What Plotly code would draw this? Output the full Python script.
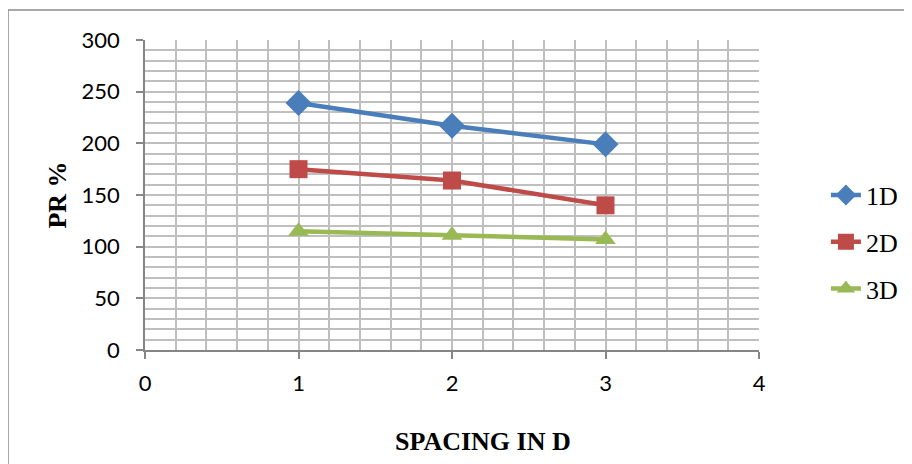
import plotly.graph_objects as go

x_vals = [1, 2, 3]
series_names = ["1D", "2D", "3D"]
y_1d = [239, 217, 199]
y_2d = [175, 164, 140]
y_3d = [115, 111, 107]

colors = ["#4a7ebb", "#be4b48", "#98b954"]
symbols = ["diamond", "square", "triangle-up"]
sizes = [20, 18, 18]

fig = go.Figure()
for name, ys, c, s, sz in zip(series_names, [y_1d, y_2d, y_3d], colors, symbols, sizes):
    fig.add_trace(go.Scatter(
        x=x_vals, y=ys, name=name, mode="lines+markers",
        line=dict(color=c, width=4.5),
        marker=dict(symbol=s, size=sz, color=c),
        legendgroup=name,
    ))

grid_c = "#bfbfbf"
axis_c = "#868686"
tick_font = dict(family="Lato, Liberation Sans, sans-serif", size=22, color="#000000")
serif = "Liberation Serif, Times New Roman, serif"

L, T, W, H = 137, 32, 614, 310
fig.update_layout(
    width=912, height=464,
    margin=dict(l=L, r=912 - L - W, t=T, b=464 - T - H),
    paper_bgcolor="white", plot_bgcolor="white",
    showlegend=True,
    legend=dict(
        x=1.109, y=0.348, xanchor="left", yanchor="middle",
        font=dict(family=serif, size=26, color="#000"),
        traceorder="grouped", tracegroupgap=10,
        bgcolor="rgba(0,0,0,0)",
    ),
    xaxis=dict(
        range=[0, 4], dtick=1, tick0=0,
        showgrid=True, gridcolor=grid_c, gridwidth=1.5,
        minor=dict(dtick=0.2, showgrid=True, gridcolor=grid_c, gridwidth=1.5),
        showline=True, linecolor=axis_c, linewidth=1.5,
        ticks="outside", ticklen=7, tickcolor=axis_c, tickwidth=1.5,
        tickfont=tick_font, ticklabelstandoff=6,
        zeroline=False,
    ),
    yaxis=dict(
        range=[0, 300], dtick=50, tick0=0,
        showgrid=True, gridcolor=grid_c, gridwidth=1.5,
        minor=dict(dtick=10, showgrid=True, gridcolor=grid_c, gridwidth=1.5),
        showline=True, linecolor=axis_c, linewidth=1.5,
        ticks="outside", ticklen=7, tickcolor=axis_c, tickwidth=1.5,
        tickfont=tick_font, ticklabelstandoff=12,
        zeroline=False,
        title=dict(text="<b>PR %</b>",
                   font=dict(family=serif, size=26, color="#000"),
                   standoff=7),
    ),
    annotations=[dict(
        text="<b>SPACING IN D</b>", xref="paper", yref="paper",
        x=(483 - 145) / W, y=0, xanchor="center", yanchor="middle",
        yshift=-91, showarrow=False,
        font=dict(family=serif, size=26, color="#000"),
    )],
    shapes=[dict(
        type="rect", xref="paper", yref="paper",
        x0=(0 - L) / W, x1=(930 - L) / W,
        y0=(T + H - 480) / H, y1=(T + H - 2) / H,
        line=dict(color="#8c8c8c", width=1.5), fillcolor="rgba(0,0,0,0)", layer="below",
    )],
)

fig.write_html("out.html")
